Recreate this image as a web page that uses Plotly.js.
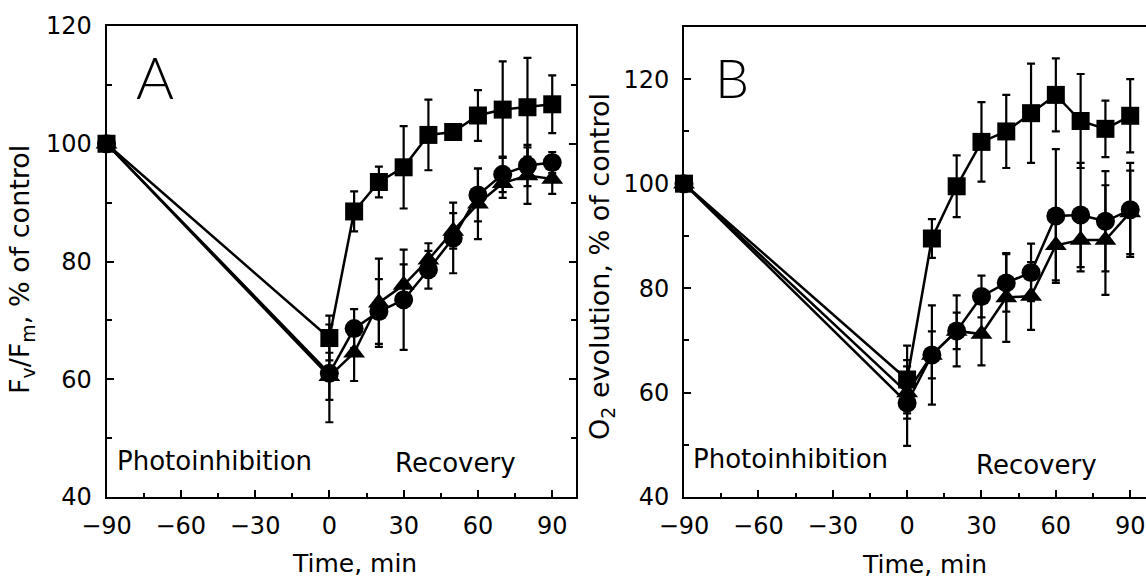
<!DOCTYPE html>
<html>
<head>
<meta charset="utf-8">
<script src="https://cdn.plot.ly/plotly-3.0.1.min.js"></script>
<style>
html, body { margin: 0; padding: 0; background: #fff; overflow: hidden; }
#chart { width: 1180px; height: 580px; }
</style>
</head>
<body>
<div id="chart"></div>
<script>
// ---- data ----
const time = [-90, 0, 10, 20, 30, 40, 50, 60, 70, 80, 90];

// Panel A: Fv/Fm, % of control
const sqA      = [100, 67, 88.5, 93.5, 96, 101.5, 102, 104.8, 105.8, 106.2, 106.7];
const sqAerr   = [0, 3.8, 3.4, 2.6, 7, 6, 1, 4.3, 8.2, 8.4, 4.9];
const circA    = [100, 61, 68.6, 71.5, 73.5, 78.6, 84, 91.3, 94.8, 96.3, 96.8];
const circAerr = [0, 8.3, 3.3, 5.5, 8.5, 3.2, 6, 4.5, 3, 3.5, 1.8];
const triA     = [100, 60.5, 64.5, 73, 76, 80.3, 85.2, 89.8, 93.3, 94.6, 94];
const triAerr  = [0, 4, 4.8, 7.5, 3.5, 2.8, 3, 6, 2.5, 4.8, 2.5];

// Panel B: O2 evolution, % of control
const sqB      = [100, 62.5, 89.5, 99.5, 108, 110, 113.5, 117, 112, 110.5, 113];
const sqBerr   = [0, 6.5, 3.7, 5.9, 7.6, 7, 9.5, 7, 9, 5.4, 7];
const circB    = [100, 58, 67.2, 71.8, 78.4, 81, 83, 93.8, 94, 92.8, 95];
const circBerr = [0, 8.2, 9.5, 6.8, 4, 5.5, 5.5, 12.8, 10, 9.6, 9];
const triB     = [100, 60, 67.2, 71.8, 71.2, 78.2, 78.5, 88.2, 89.2, 89.2, 94.5];
const triBerr  = [0, 5, 4.5, 3.5, 6, 8.5, 6.5, 6.7, 6, 10.5, 8];

const xTitle = "Time, min";
const yTitleA = "F<sub>v</sub>/F<sub>m</sub>, % of control";
const yTitleB = "O<sub>2</sub> evolution, % of control";
const phaseLabels = ["Photoinhibition", "Recovery"];
const panelLabels = ["A", "B"];

// ---- layout helpers ----
const W = 1180, H = 580;
const px = v => v / W;
const py = v => 1 - v / H;
const FONT = "DejaVu Sans, Liberation Sans, sans-serif";

function series(y, err, symbol, size, xa, ya) {
  return {
    x: time, y: y, xaxis: xa, yaxis: ya,
    type: "scatter", mode: "lines+markers", cliponaxis: false,
    line: { color: "#000", width: 2.5 },
    marker: { symbol: symbol, size: size, color: "#000" },
    error_y: { type: "data", array: err, visible: true, color: "#000", thickness: 2.2, width: 4 },
    hoverinfo: "skip"
  };
}

const traces = [
  series(triA, triAerr, "triangle-up", 19, "x", "y"),
  series(circA, circAerr, "circle", 19, "x", "y"),
  series(sqA, sqAerr, "square", 18, "x", "y"),
  series(triB, triBerr, "triangle-up", 19, "x2", "y2"),
  series(circB, circBerr, "circle", 19, "x2", "y2"),
  series(sqB, sqBerr, "square", 18, "x2", "y2")
];

function xAxis(domain, range, anchor) {
  return {
    domain: domain, range: range, anchor: anchor,
    tick0: -90, dtick: 30, ticks: "inside", ticklen: 7, tickwidth: 2, tickcolor: "#000",
    minor: { tick0: -90, dtick: 15, ticks: "inside", ticklen: 4, tickwidth: 2, tickcolor: "#000", showgrid: false },
    showline: true, linewidth: 2, linecolor: "#000", mirror: true,
    showgrid: false, zeroline: false,
    tickfont: { family: FONT, size: 24, color: "#000" },
    ticklabelstandoff: 6
  };
}
function yAxis(domain, range, anchor) {
  return {
    domain: domain, range: range, anchor: anchor,
    tick0: 40, dtick: 20, ticks: "inside", ticklen: 7, tickwidth: 2, tickcolor: "#000",
    minor: { tick0: 40, dtick: 10, ticks: "inside", ticklen: 5, tickwidth: 2, tickcolor: "#000", showgrid: false },
    showline: true, linewidth: 2, linecolor: "#000", mirror: "ticks",
    showgrid: false, zeroline: false,
    tickfont: { family: FONT, size: 24, color: "#000" },
    ticklabelstandoff: 8
  };
}

function ann(text, x, y, size, opts) {
  return Object.assign({
    text: text, xref: "paper", yref: "paper", x: px(x), y: py(y),
    xanchor: "center", yanchor: "middle", showarrow: false,
    font: { family: FONT, size: size, color: "#000" }
  }, opts || {});
}

const layout = {
  width: W, height: H,
  margin: { l: 0, r: 0, t: 0, b: 0 },
  paper_bgcolor: "#fff", plot_bgcolor: "#fff",
  showlegend: false,
  font: { family: FONT, color: "#000" },
  xaxis: xAxis([px(106.5), px(576)], [-90, 99.6], "y"),
  yaxis: yAxis([py(497), py(26)], [40, 120], "x"),
  xaxis2: xAxis([px(684), px(1155)], [-90, 100], "y2"),
  yaxis2: yAxis([py(497), py(27)], [40, 130], "x2"),
  annotations: [
    ann(xTitle, 354, 563, 25),
    ann(xTitle, 924, 564, 25),
    ann(yTitleA, 22, 270, 27, { textangle: -90 }),
    ann(yTitleB, 602, 266, 27, { textangle: -90 }),
    ann(phaseLabels[0], 214, 461, 26),
    ann(phaseLabels[1], 455, 463, 26),
    ann(phaseLabels[0], 790, 459, 26),
    ann(phaseLabels[1], 1036, 465, 26),
    ann(panelLabels[0], 155, 76, 58, { font: { family: "Lato, DejaVu Sans, sans-serif", size: 58, color: "#000", weight: 300 } }),
    ann(panelLabels[1], 732, 78, 54, { font: { family: "Lato, DejaVu Sans, sans-serif", size: 54, color: "#000", weight: 300 } })
  ]
};

Plotly.newPlot("chart", traces, layout, { staticPlot: true, displayModeBar: false });
</script>
</body>
</html>
